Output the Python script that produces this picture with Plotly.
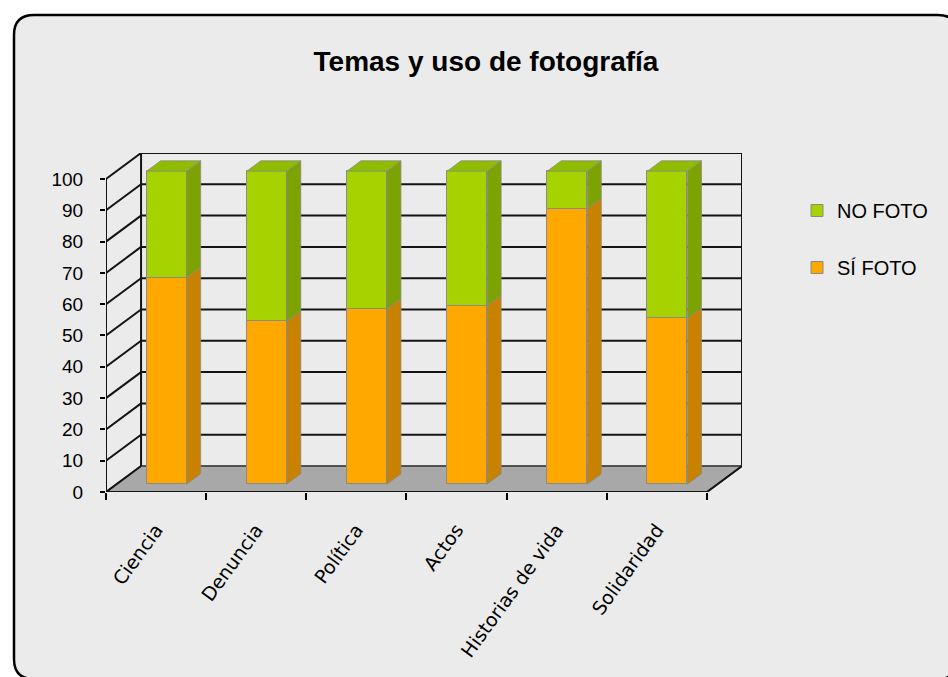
import plotly.graph_objects as go

# ---- data -------------------------------------------------------------
categorias = ["Ciencia", "Denuncia", "Política", "Actos", "Historias de vida", "Solidaridad"]
si_foto = [66, 52, 56, 57, 88, 53]
no_foto = [34, 48, 44, 43, 12, 47]
ticks_y = [0, 10, 20, 30, 40, 50, 60, 70, 80, 90, 100]

# ---- 3-D look: oblique projection of the depth direction (data units) --
DX, DY = 0.35, 8.3               # full depth of the box
BAR_Z0, BAR_DEPTH = 0.30, 0.40   # bar front plane / bar thickness (fraction of depth)
BAR_W = 0.40
YMAX = 100

COL_SI, COL_SI_SIDE = "#FFA800", "#C98200"
COL_NO, COL_NO_SIDE, COL_NO_TOP = "#A6D200", "#7DA300", "#8FBC00"
EDGE = "#8a8a8a"
GRID = "#141414"

n = len(categorias)
x_left, x_right = -0.5, n - 0.5

# figure geometry (pixels)
W, H = 948, 677
ML, MR, MT, MB = 106, 206, 153, 185
PW, PH = W - ML - MR, H - MT - MB


def px(xp):
    return (xp - ML) / PW


def py(yp):
    return (H - MB - yp) / PH


shapes = []

# rounded chart frame
L, T, R, B, r = 14, 15, 958, 679, 20
frame = (f"M {px(L)},{py(T + r)} Q {px(L)},{py(T)} {px(L + r)},{py(T)} "
         f"L {px(R - r)},{py(T)} Q {px(R)},{py(T)} {px(R)},{py(T + r)} "
         f"L {px(R)},{py(B - r)} Q {px(R)},{py(B)} {px(R - r)},{py(B)} "
         f"L {px(L + r)},{py(B)} Q {px(L)},{py(B)} {px(L)},{py(B - r)} Z")
shapes.append(dict(type="path", path=frame, xref="paper", yref="paper",
                   fillcolor="#ebebeb", line=dict(color="black", width=2.5), layer="below"))

# floor (behind the bars)
shapes.append(dict(type="path", xref="x", yref="y", layer="below",
                   path=f"M {x_left},0 L {x_right},0 L {x_right + DX},{DY} L {x_left + DX},{DY} Z",
                   fillcolor="#a8a8a8", line=dict(color="#4a4a4a", width=1.5)))

# side wall diagonals and back wall grid lines
for v in ticks_y:
    shapes.append(dict(type="line", xref="x", yref="y", layer="below",
                       x0=x_left, y0=v, x1=x_left + DX, y1=v + DY,
                       line=dict(color=GRID, width=2)))
    shapes.append(dict(type="line", xref="x", yref="y", layer="below",
                       x0=x_left + DX, y0=v + DY, x1=x_right + DX, y1=v + DY,
                       line=dict(color=GRID if v > 0 else "#4a4a4a", width=2 if v > 0 else 1.5)))
for xe in (x_left + DX, x_right + DX):
    shapes.append(dict(type="line", xref="x", yref="y", layer="below",
                       x0=xe, y0=DY, x1=xe, y1=YMAX + DY, line=dict(color=GRID, width=2)))

fig = go.Figure()

# front edges of the box: value axis and floor front/right edges
fig.add_trace(go.Scatter(
    x=[x_left, x_left, None, x_left, x_right, x_right + DX],
    y=[YMAX, 0, None, 0, 0, DY],
    mode="lines", line=dict(color=GRID, width=2),
    hoverinfo="skip", showlegend=False, cliponaxis=False))

# bar geometry
xc = [i + BAR_Z0 * DX for i in range(n)]          # centre of each front face
base0 = BAR_Z0 * DY
bdx, bdy = BAR_DEPTH * DX, BAR_DEPTH * DY

si_bot = [base0] * n
si_top = [base0 + s for s in si_foto]
no_top = [b + v for b, v in zip(si_top, no_foto)]

# front faces
fig.add_trace(go.Bar(
    x=xc, y=si_foto, base=si_bot, width=BAR_W, name="SÍ FOTO",
    marker=dict(color=COL_SI, line=dict(color=EDGE, width=1)),
    legendgroup="si", legendrank=2, hoverinfo="y+name"))
fig.add_trace(go.Bar(
    x=xc, y=no_foto, base=si_top, width=BAR_W, name="NO FOTO",
    marker=dict(color=COL_NO, line=dict(color=EDGE, width=1)),
    legendgroup="no", legendrank=1, hoverinfo="y+name"))


def side_faces(bottoms, tops):
    xs, ys = [], []
    for c, b, t in zip(xc, bottoms, tops):
        xr = c + BAR_W / 2
        xs += [xr, xr + bdx, xr + bdx, xr, xr, None]
        ys += [b, b + bdy, t + bdy, t, b, None]
    return xs, ys


sx, sy = side_faces(si_bot, si_top)
fig.add_trace(go.Scatter(x=sx, y=sy, mode="lines", fill="toself", fillcolor=COL_SI_SIDE,
                         line=dict(color=EDGE, width=0.8), hoverinfo="skip", showlegend=False))
sx, sy = side_faces(si_top, no_top)
fig.add_trace(go.Scatter(x=sx, y=sy, mode="lines", fill="toself", fillcolor=COL_NO_SIDE,
                         line=dict(color=EDGE, width=0.8), hoverinfo="skip", showlegend=False))

# top faces
tx, ty = [], []
for c, t in zip(xc, no_top):
    xl, xr = c - BAR_W / 2, c + BAR_W / 2
    tx += [xl, xr, xr + bdx, xl + bdx, xl, None]
    ty += [t, t, t + bdy, t + bdy, t, None]
fig.add_trace(go.Scatter(x=tx, y=ty, mode="lines", fill="toself", fillcolor=COL_NO_TOP,
                         line=dict(color=EDGE, width=0.8), hoverinfo="skip", showlegend=False))

fig.update_layout(
    width=W, height=H,
    margin=dict(l=ML, r=MR, t=MT, b=MB),
    paper_bgcolor="white", plot_bgcolor="rgba(0,0,0,0)",
    barmode="overlay", bargap=0,
    shapes=shapes,
    title=dict(text="<b>Temas y uso de fotografía</b>", x=486 / W, y=1 - 61 / H,
               xref="container", yref="container", xanchor="center", yanchor="middle",
               font=dict(family="Liberation Sans, Arial", size=28, color="black")),
    legend=dict(x=797 / W, y=1 - 191 / H, xref="container", yref="container",
                xanchor="left", yanchor="top", bgcolor="rgba(0,0,0,0)",
                tracegroupgap=28, itemwidth=30,
                font=dict(family="Liberation Sans, Arial", size=20, color="black")),
    xaxis=dict(range=[x_left, x_right + DX], tickmode="array", tickvals=list(range(n)),
               ticktext=categorias, tickangle=-54, ticks="", showgrid=False,
               zeroline=False, showline=False, ticklabelstandoff=22,
               tickfont=dict(family="DejaVu Sans", size=19, color="black"),
               minor=dict(tickmode="array", tickvals=[i - 0.5 for i in range(n + 1)],
                          ticks="outside", ticklen=7, tickwidth=2, tickcolor="black",
                          showgrid=False)),
    yaxis=dict(range=[0, YMAX + DY], tickmode="array", tickvals=ticks_y,
               ticks="outside", ticklen=5, tickwidth=2, tickcolor="black",
               showgrid=False, zeroline=False, showline=False, ticklabelstandoff=13,
               tickfont=dict(family="Liberation Sans, Arial", size=19, color="black")),
)

fig.write_html("out.html")
